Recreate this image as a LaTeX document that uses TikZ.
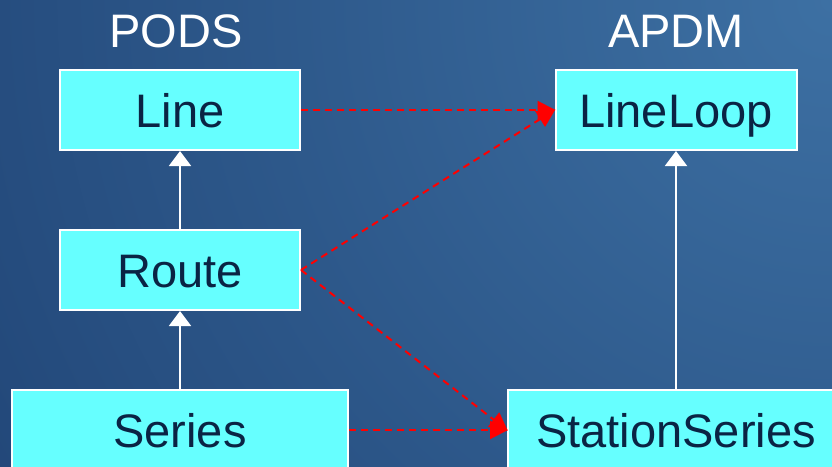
\documentclass[tikz,border=0pt]{standalone}
\usepackage{fontspec}
\setmainfont{Liberation Sans}
\usetikzlibrary{arrows.meta}
\definecolor{bgdark}{HTML}{122F60}
\definecolor{bglight}{HTML}{3D70A3}
\definecolor{boxfill}{HTML}{66FFFF}
\definecolor{boxtext}{HTML}{0A2444}
\definecolor{dashred}{HTML}{FF0000}
\tikzset{
  cls/.style={draw=white, line width=2pt, fill=boxfill, text=boxtext,
    font=\fontsize{47}{56}\selectfont, inner sep=0pt, minimum height=80pt,
    text height=34pt, text depth=0pt, anchor=center},
  head/.style={text=white, font=\fontsize{47}{56}\selectfont, inner sep=0pt,
    text height=34pt, text depth=0pt},
  gen/.style={draw=white, line width=2pt, -{Triangle[width=22pt,length=15pt,fill=white]}},
  dep/.style={draw=dashred, line width=2pt, dash pattern=on 7pt off 5pt,
    -{Triangle[width=18pt,length=18pt,fill=dashred]}, shorten >=-1pt}
}
\begin{document}
\begin{tikzpicture}[x=1pt,y=-1pt]
\useasboundingbox (0,0) rectangle (832,466);
\begin{scope}
\clip (0,0) rectangle (832,466);
\shade[inner color=bglight, outer color=bgdark] (832,0) circle (1550);
\end{scope}
\node[head] (pods) at (176,30) {PODS};
\node[head] (apdm) at (676,30) {APDM};
\node[cls, minimum width=240pt] (line) at (180,110) {Line};
\node[cls, minimum width=240pt] (route) at (180,270) {Route};
\node[cls, minimum width=336pt] (series) at (180,430) {Series};
\node[cls, minimum width=241pt] (lineloop) at (676,110) {LineLoop};
\node[cls, minimum width=336pt] (stser) at (676,430) {StationSeries};
\draw[gen] (route.north) -- (line.south);
\draw[gen] (series.north) -- (route.south);
\draw[gen] (stser.north) -- (lineloop.south);
\draw[dep] (line.east) -- (lineloop.west);
\draw[dep] (route.east) -- (lineloop.west);
\draw[dep] (route.east) -- (stser.west);
\draw[dep] (series.east) -- (stser.west);
\end{tikzpicture}
\end{document}
